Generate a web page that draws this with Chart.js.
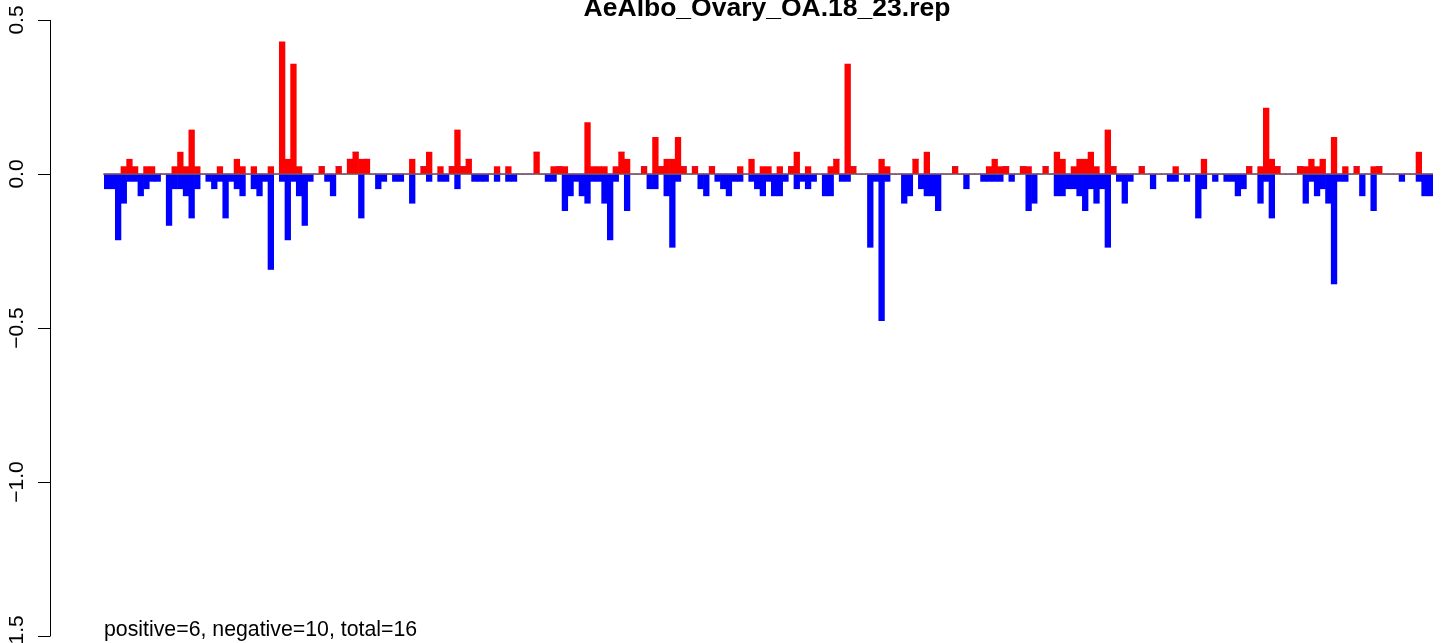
<!DOCTYPE html>
<html>
<head>
<meta charset="utf-8">
<script src="https://cdn.jsdelivr.net/npm/chart.js@4"></script>
<style>
  html, body { margin: 0; padding: 0; background: #fff; }
  canvas { display: block; }
</style>
</head>
<body>
<canvas id="repChart" width="1441" height="643"></canvas>
<script>
// values, one entry per bar (left to right)
const positive = [
  0, 0, 0, 0.024, 0.048, 0.024, 0, 0.024, 0.024, 0,
  0, 0, 0.024, 0.071, 0.024, 0.143, 0.024, 0, 0, 0,
  0.024, 0, 0, 0.048, 0.024, 0, 0.024, 0, 0, 0.024,
  0, 0.429, 0.048, 0.357, 0.024, 0, 0, 0, 0.024, 0,
  0, 0.024, 0, 0.048, 0.071, 0.048, 0.048, 0, 0, 0,
  0, 0, 0, 0, 0.048, 0, 0.024, 0.071, 0, 0.024,
  0, 0.024, 0.143, 0.024, 0.048, 0, 0, 0, 0, 0.024,
  0, 0.024, 0, 0, 0, 0, 0.071, 0, 0, 0.024,
  0.024, 0.024, 0, 0, 0, 0.167, 0.024, 0.024, 0.024, 0,
  0.024, 0.071, 0.048, 0, 0, 0.024, 0, 0.119, 0.024, 0.048,
  0.048, 0.119, 0.024, 0, 0.024, 0, 0, 0.024, 0, 0,
  0, 0, 0.024, 0, 0.048, 0, 0.024, 0.024, 0, 0.024,
  0, 0.024, 0.071, 0, 0.024, 0, 0, 0, 0.024, 0.048,
  0, 0.357, 0.024, 0, 0, 0, 0, 0.048, 0.024, 0,
  0, 0, 0, 0.048, 0, 0.071, 0, 0, 0, 0,
  0.024, 0, 0, 0, 0, 0, 0.024, 0.048, 0.024, 0.024,
  0, 0, 0.024, 0.024, 0, 0, 0.024, 0, 0.071, 0.048,
  0, 0.024, 0.048, 0.048, 0.071, 0.024, 0, 0.143, 0.024, 0,
  0, 0, 0, 0.024, 0, 0, 0, 0, 0, 0.024,
  0, 0, 0, 0, 0.048, 0, 0, 0, 0, 0,
  0, 0, 0.024, 0, 0.024, 0.214, 0.048, 0.024, 0, 0,
  0, 0.024, 0.024, 0.048, 0.024, 0.048, 0, 0.119, 0, 0.024,
  0, 0.024, 0, 0, 0.024, 0.024, 0, 0, 0, 0,
  0, 0, 0.071, 0, 0
];

const negative = [
  -0.048, -0.048, -0.214, -0.095, -0.024, -0.024, -0.071, -0.048, -0.024, -0.024,
  0, -0.167, -0.048, -0.048, -0.071, -0.143, -0.048, 0, -0.024, -0.048,
  -0.024, -0.143, -0.024, -0.048, -0.071, 0, -0.048, -0.071, -0.024, -0.31,
  0, -0.024, -0.214, -0.024, -0.071, -0.167, -0.024, 0, 0, -0.024,
  -0.071, 0, 0, 0, 0, -0.143, 0, 0, -0.048, -0.024,
  0, -0.024, -0.024, 0, -0.095, 0, 0, -0.024, 0, -0.024,
  -0.024, 0, -0.048, 0, 0, -0.024, -0.024, -0.024, 0, -0.024,
  0, -0.024, -0.024, 0, 0, 0, 0, 0, -0.024, -0.024,
  0, -0.119, -0.071, -0.024, -0.071, -0.095, -0.024, -0.024, -0.095, -0.214,
  -0.024, 0, -0.119, 0, 0, 0, -0.048, -0.048, 0, -0.071,
  -0.238, -0.024, 0, 0, 0, -0.048, -0.071, 0, -0.024, -0.048,
  -0.071, -0.024, -0.024, 0, -0.024, -0.048, -0.071, -0.024, -0.071, -0.071,
  -0.024, 0, -0.048, -0.024, -0.048, -0.024, 0, -0.071, -0.071, 0,
  -0.024, -0.024, 0, 0, 0, -0.238, -0.024, -0.476, -0.024, 0,
  0, -0.095, -0.071, 0, -0.048, -0.071, -0.071, -0.119, 0, 0,
  0, 0, -0.048, 0, 0, -0.024, -0.024, -0.024, -0.024, 0,
  -0.024, 0, 0, -0.119, -0.095, 0, 0, 0, -0.071, -0.071,
  -0.048, -0.048, -0.071, -0.119, -0.048, -0.095, -0.048, -0.238, 0, -0.024,
  -0.095, -0.024, 0, 0, 0, -0.048, 0, 0, -0.024, -0.024,
  0, -0.024, 0, -0.143, -0.048, 0, -0.024, 0, -0.024, -0.024,
  -0.071, -0.048, 0, 0, -0.095, -0.024, -0.143, 0, 0, 0,
  0, 0, -0.095, -0.024, -0.071, -0.048, -0.095, -0.357, -0.024, -0.024,
  0, 0, -0.071, 0, -0.119, 0, 0, 0, 0, -0.024,
  0, 0, -0.024, -0.071, -0.071
];

const categories = positive.map((_, i) => String(i + 1));
const yTicks = [0.5, 0, -0.5, -1, -1.5];
const yTickLabels = ['0.5', '0.0', '\u22120.5', '\u22121.0', '\u22121.5'];
const chartTitle = 'AeAlbo_Ovary_OA.18_23.rep';
const footNote = 'positive=6, negative=10, total=16';

const FONT = '"Liberation Sans", Arial, Helvetica, sans-serif';

// axis, zero line and the texts, drawn the way the R plot has them
const rDecor = {
  id: 'rDecor',
  afterDatasetsDraw(chart) {
    const ctx = chart.ctx;
    const y = chart.scales.y;
    const area = chart.chartArea;
    const axisX = 50;

    ctx.save();
    // zero line
    const y0 = y.getPixelForValue(0);
    ctx.strokeStyle = '#666';
    ctx.lineWidth = 1.2;
    ctx.beginPath();
    ctx.moveTo(area.left - 1, y0 + 0.2);
    ctx.lineTo(area.right, y0 + 0.2);
    ctx.stroke();

    // y axis
    ctx.strokeStyle = '#000';
    ctx.lineWidth = 1;
    ctx.beginPath();
    ctx.moveTo(axisX + 0.5, y.getPixelForValue(yTicks[0]));
    ctx.lineTo(axisX + 0.5, y.getPixelForValue(yTicks[yTicks.length - 1]));
    yTicks.forEach(v => {
      const py = Math.round(y.getPixelForValue(v)) + 0.5;
      ctx.moveTo(axisX - 12, py);
      ctx.lineTo(axisX + 0.5, py);
    });
    ctx.stroke();

    ctx.fillStyle = '#000';
    ctx.font = '21px ' + FONT;
    ctx.textAlign = 'center';
    ctx.textBaseline = 'alphabetic';
    yTicks.forEach((v, i) => {
      ctx.save();
      ctx.translate(23, y.getPixelForValue(v));
      ctx.rotate(-Math.PI / 2);
      ctx.fillText(yTickLabels[i], 0, 0);
      ctx.restore();
    });

    // title
    ctx.font = 'bold 26.5px ' + FONT;
    ctx.textAlign = 'center';
    ctx.fillText(chartTitle, 767, 16);

    // footnote
    ctx.font = '21.3px ' + FONT;
    ctx.textAlign = 'left';
    ctx.fillText(footNote, area.left, 636);
    ctx.restore();
  }
};

new Chart(document.getElementById('repChart').getContext('2d'), {
  type: 'bar',
  data: {
    labels: categories,
    datasets: [
      { label: 'positive', data: positive, backgroundColor: '#ff0000' },
      { label: 'negative', data: negative, backgroundColor: '#0000ff' }
    ]
  },
  options: {
    responsive: false,
    devicePixelRatio: 1,
    animation: false,
    layout: { padding: { left: 104, right: 8, top: 20, bottom: 7 } },
    datasets: {
      bar: { barPercentage: 1, categoryPercentage: 1, borderWidth: 0 }
    },
    scales: {
      x: { stacked: true, display: false },
      y: { stacked: true, display: false, min: -1.5, max: 0.5 }
    },
    plugins: {
      legend: { display: false },
      tooltip: { enabled: false },
      title: { display: false }
    }
  },
  plugins: [rDecor]
});
</script>
</body>
</html>
